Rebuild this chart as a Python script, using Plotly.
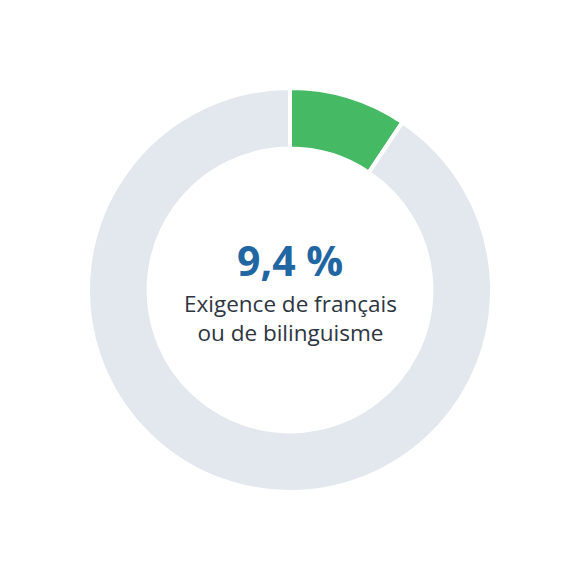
import plotly.graph_objects as go

labels = ["Exigence de français ou de bilinguisme", "Autre"]
values = [9.4, 90.6]
colors = ["#45B963", "#E3E8EE"]
center_value = "9,4 %"
center_label = "Exigence de français<br>ou de bilinguisme"

fig = go.Figure(go.Pie(
    labels=labels,
    values=values,
    hole=0.70,
    sort=False,
    direction="clockwise",
    rotation=0,
    marker=dict(colors=colors, line=dict(color="white", width=4)),
    textinfo="none",
    hoverinfo="none",
    showlegend=False,
))

fig.add_annotation(
    x=0.5, y=0.5, xref="paper", yref="paper",
    text=f"<b>{center_value}</b>",
    showarrow=False, yshift=30,
    font=dict(family="Open Sans", size=41, color="#1F66A3"),
)
fig.add_annotation(
    x=0.5, y=0.5, xref="paper", yref="paper",
    text=center_label,
    showarrow=False, yshift=-28,
    font=dict(family="Open Sans", size=22.5, color="#2D3541"),
)

fig.update_layout(
    width=580, height=580,
    margin=dict(l=80, r=96, t=80, b=96),
    paper_bgcolor="white",
    plot_bgcolor="white",
)

fig.write_html("out.html")
